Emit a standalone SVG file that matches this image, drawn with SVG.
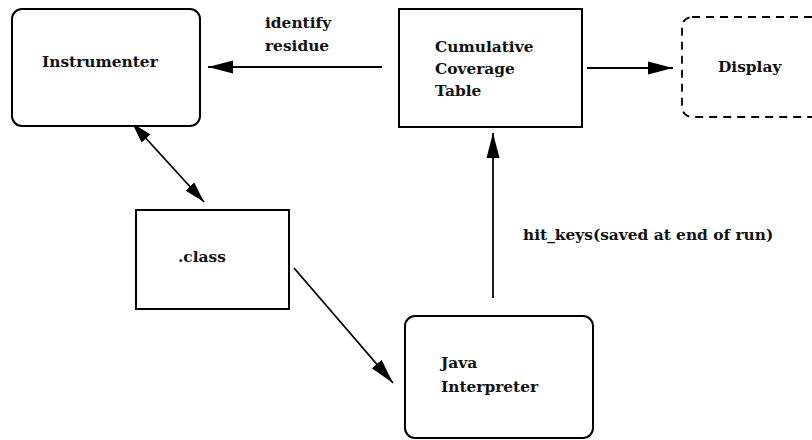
<svg xmlns="http://www.w3.org/2000/svg" width="812" height="440" viewBox="0 0 812 440">
<style>
.box{fill:#fff;stroke:#000;stroke-width:2}
.dash{fill:#fff;stroke:#000;stroke-width:1.8;stroke-dasharray:8 6}
.t{font-family:"DejaVu Serif","Liberation Serif",serif;font-weight:bold;font-size:15.4px;fill:#111}
.ln{stroke:#000;stroke-width:1.8;fill:none}
</style>
<defs>
<marker id="ah" markerUnits="userSpaceOnUse" markerWidth="26" markerHeight="14" refX="25" refY="7" orient="auto-start-reverse">
<path d="M0,0.5 L25,7 L0,13.5 z" fill="#000"/>
</marker>
<marker id="ahs" markerUnits="userSpaceOnUse" markerWidth="22" markerHeight="14" refX="21" refY="7" orient="auto-start-reverse">
<path d="M0,1 L21,7 L0,13 z" fill="#000"/>
</marker>
</defs>
<g id="connectors">
<line class="ln" x1="382" y1="67" x2="208" y2="67" marker-end="url(#ah)"/>
<line class="ln" x1="587" y1="68" x2="673" y2="68" marker-end="url(#ah)"/>
<line class="ln" x1="493" y1="298" x2="493" y2="133" marker-end="url(#ah)"/>
<line class="ln" x1="294" y1="268" x2="393" y2="383" marker-end="url(#ah)"/>
<line class="ln" x1="132" y1="123" x2="204" y2="202" marker-start="url(#ahs)" marker-end="url(#ahs)"/>
<text class="t" x="265" y="28">identify</text>
<text class="t" x="265" y="51">residue</text>
<text class="t" x="26" y="92">instrument</text>
<text class="t" x="26" y="119">residue</text>
<text class="t" x="523" y="240">hit_keys(saved at end of run)</text>
</g>
<g id="instrumenter">
<rect class="box" x="12" y="9" width="188" height="117" rx="10"/>
<text class="t" x="42" y="67">Instrumenter</text>
</g>
<g id="cumulative">
<rect class="box" x="399" y="9" width="183" height="118"/>
<text class="t" x="435" y="52">Cumulative</text>
<text class="t" x="435" y="74">Coverage</text>
<text class="t" x="435" y="96">Table</text>
</g>
<g id="display">
<rect class="dash" x="682" y="17" width="145" height="100" rx="10"/>
<text class="t" x="718" y="72">Display</text>
</g>
<g id="class">
<rect class="box" x="136" y="210" width="153" height="99"/>
<text class="t" x="178" y="262">.class</text>
</g>
<g id="java">
<rect class="box" x="405" y="316" width="188" height="122" rx="10"/>
<text class="t" x="441" y="368">Java</text>
<text class="t" x="441" y="392">Interpreter</text>
</g>
</svg>
